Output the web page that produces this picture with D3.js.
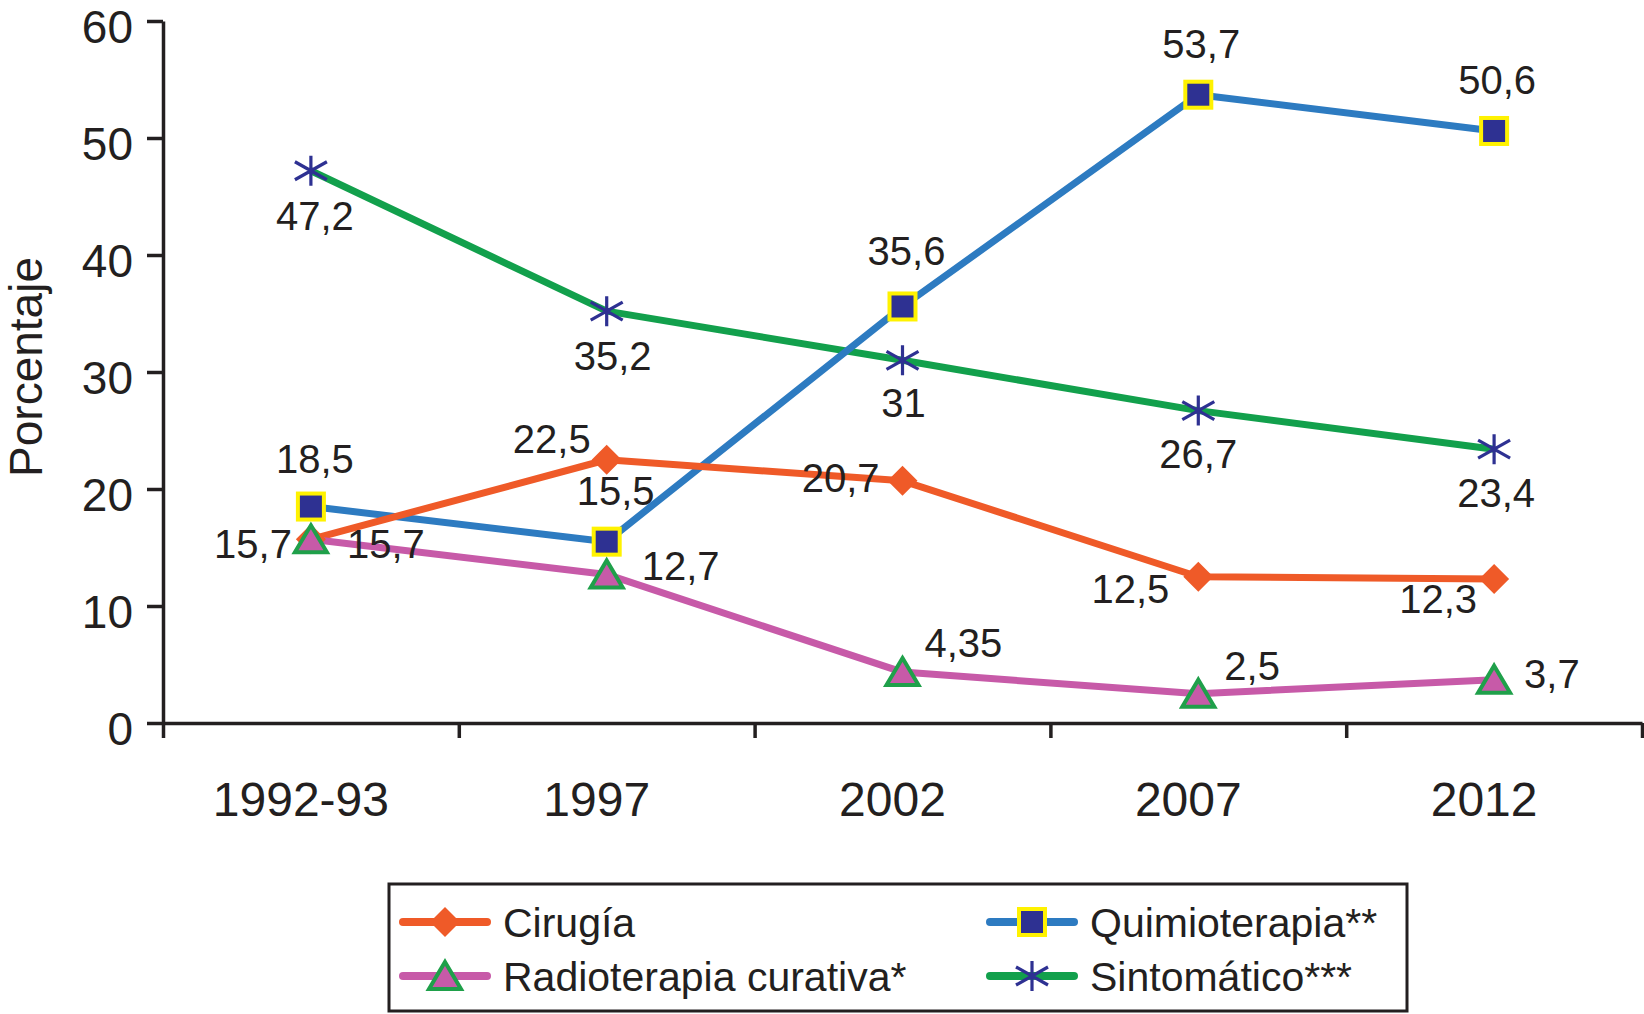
<!DOCTYPE html>
<html>
<head>
<meta charset="utf-8">
<script src="https://cdn.jsdelivr.net/npm/d3@7/dist/d3.min.js"></script>
<style>
  body { margin: 0; background: #fff; }
  text { font-family: "Liberation Sans", Arial, Helvetica, sans-serif; fill: #231f20; }
</style>
</head>
<body>
<div id="chart"></div>
<script>
// data
const categories = ["1992-93", "1997", "2002", "2007", "2012"];
const cirugia = [15.7, 22.5, 20.7, 12.5, 12.3];
const radioterapia = [15.7, 12.7, 4.35, 2.5, 3.7];
const quimioterapia = [18.5, 15.5, 35.6, 53.7, 50.6];
const sintomatico = [47.2, 35.2, 31, 26.7, 23.4];
const yTicks = [0, 10, 20, 30, 40, 50, 60];

const width = 1644, height = 1014;
const plot = {left: 163, right: 1642, top: 21, bottom: 723};

const ink = "#231f20";
const navy = "#2e3192";

let svg = d3.select("#chart")
    .append("svg")
    .attr("width", width)
    .attr("height", height);

let x = d3.scaleBand()
    .domain(categories)
    .range([plot.left, plot.right]);

let xEdge = d3.scaleLinear()
    .domain([0, categories.length])
    .range([plot.left, plot.right]);

let y = d3.scaleLinear()
    .domain([0, 60])
    .range([plot.bottom, plot.top]);

const cx = d => x(d) + x.bandwidth() / 2;

// label placement (dx, dy from point, anchor)
const series = [
  {name: "Sintomático***", values: sintomatico, color: "#12a04c", marker: "star",
   labels: [[4, 59, "middle"], [6, 59, "middle"], [1, 57, "middle"], [0, 57, "middle"], [2, 58, "middle"]]},
  {name: "Quimioterapia**", values: quimioterapia, color: "#2d7bc1", marker: "square",
   labels: [[4, -34, "middle"], [9, -37, "middle"], [4, -41, "middle"], [3, -37, "middle"], [3, -37, "middle"]]},
  {name: "Cirugía", values: cirugia, color: "#ef5a28", marker: "diamond",
   labels: [[-19, 19, "end"], [-16, -7, "end"], [-23, 11, "end"], [-29, 26, "end"], [-17, 34, "end"]]},
  {name: "Radioterapia curativa*", values: radioterapia, color: "#c75aa8", marker: "triangle",
   labels: [[36, 19, "start"], [35, 6, "start"], [22, -15, "start"], [26, -14, "start"], [30, 8, "start"]]}
];

function drawMarker(g, type, color) {
  if (type === "diamond") {
    g.append("path").attr("d", "M0,-15L15,0L0,15L-15,0Z").attr("fill", color);
  } else if (type === "square") {
    g.append("rect").attr("x", -13).attr("y", -13).attr("width", 26).attr("height", 26)
      .attr("fill", navy).attr("stroke", "#fff200").attr("stroke-width", 4);
  } else if (type === "triangle") {
    g.append("path").attr("d", "M0,-14L16,13L-16,13Z")
      .attr("fill", "#c75aa8").attr("stroke", "#1fa04a").attr("stroke-width", 4)
      .attr("stroke-linejoin", "miter");
  } else {
    g.append("path").attr("d", "M0,-15V15M-16,-9L16,9M-16,9L16,-9")
      .attr("fill", "none").attr("stroke", navy).attr("stroke-width", 3.2);
  }
}

// axes
let yAxis = svg.append("g")
    .attr("transform", `translate(${plot.left},0)`)
    .call(d3.axisLeft(y).tickValues(yTicks).tickSize(16).tickSizeOuter(0).tickPadding(14));
yAxis.selectAll("text")
    .style("font-size", "46px")
    .attr("dy", "0.46em");

let xAxis = svg.append("g")
    .attr("transform", `translate(0,${plot.bottom})`)
    .call(d3.axisBottom(xEdge).tickValues(d3.range(categories.length + 1)).tickSize(15).tickSizeOuter(0).tickFormat(""));

svg.selectAll(".domain, .tick line")
    .attr("stroke", ink)
    .attr("stroke-width", 3.5);

svg.append("g").selectAll("text").data(categories)
    .enter()
    .append("text")
    .attr("x", d => cx(d) - 10)
    .attr("y", 816)
    .attr("text-anchor", "middle")
    .style("font-size", "48px")
    .text(d => d);

svg.append("text")
    .attr("transform", "translate(42,367) rotate(-90)")
    .attr("text-anchor", "middle")
    .style("font-size", "46px")
    .text("Porcentaje");

// lines
let line = d3.line()
    .x((d, i) => cx(categories[i]))
    .y(d => y(d));

series.forEach(s => {
  svg.append("path")
    .datum(s.values)
    .attr("d", line)
    .attr("fill", "none")
    .attr("stroke", s.color)
    .attr("stroke-width", 7)
    .attr("stroke-linejoin", "round");
});

// markers
["diamond", "square", "triangle", "star"].forEach(m => {
  let s = series.find(d => d.marker === m);
  s.values.forEach((v, i) => {
    let g = svg.append("g").attr("transform", `translate(${cx(categories[i])},${y(v)})`);
    drawMarker(g, m, s.color);
  });
});

// value labels
series.forEach(s => {
  svg.append("g").selectAll("text").data(s.values)
    .enter()
    .append("text")
    .attr("x", (d, i) => cx(categories[i]) + s.labels[i][0])
    .attr("y", (d, i) => y(d) + s.labels[i][1])
    .attr("text-anchor", (d, i) => s.labels[i][2])
    .style("font-size", "40px")
    .text(d => String(d).replace(".", ","));
});

// legend
let legend = svg.append("g");
legend.append("rect")
    .attr("x", 389).attr("y", 884)
    .attr("width", 1018).attr("height", 127)
    .attr("fill", "#fff")
    .attr("stroke", ink)
    .attr("stroke-width", 3);

const legendOrder = ["Cirugía", "Quimioterapia**", "Radioterapia curativa*", "Sintomático***"];
const legendCols = [403, 990];
const legendRows = [922, 976];

legendOrder.forEach((name, k) => {
  let s = series.find(d => d.name === name);
  let lx = legendCols[k % 2], ly = legendRows[Math.floor(k / 2)];
  legend.append("line")
    .attr("x1", lx).attr("x2", lx + 84)
    .attr("y1", ly).attr("y2", ly)
    .attr("stroke", s.color)
    .attr("stroke-width", 8)
    .attr("stroke-linecap", "round");
  let g = legend.append("g").attr("transform", `translate(${lx + 42},${ly})`);
  drawMarker(g, s.marker, s.color);
  legend.append("text")
    .attr("x", lx + 100)
    .attr("y", ly + 15)
    .style("font-size", "41px")
    .text(name);
});
</script>
</body>
</html>
